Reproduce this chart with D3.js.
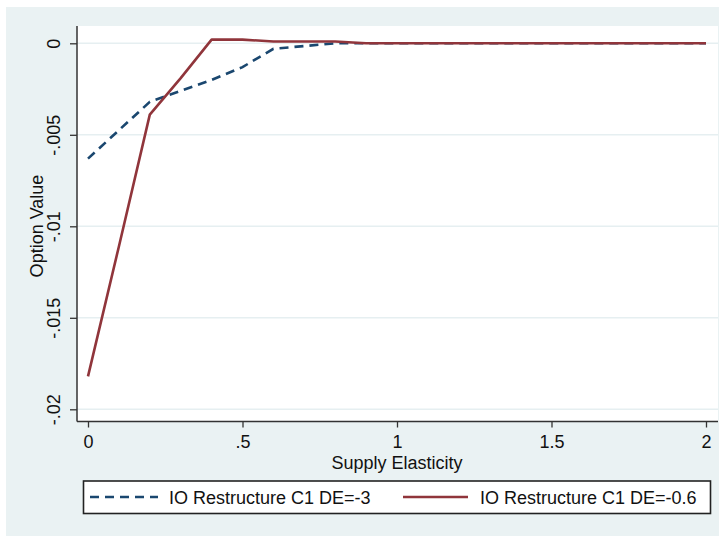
<!DOCTYPE html>
<html>
<head>
<meta charset="utf-8">
<script src="https://cdn.jsdelivr.net/npm/d3@7"></script>
<style>
  html, body { margin: 0; padding: 0; background: #ffffff; }
  svg { display: block; }
  text { font-family: "Liberation Sans", Arial, sans-serif; fill: #111; }
</style>
</head>
<body>
<svg id="chart" width="725" height="536"></svg>
<script>
// Supply elasticity grid
const elasticity = [0, 0.1, 0.2, 0.3, 0.4, 0.5, 0.6, 0.7, 0.8, 0.9, 1.0,
                    1.1, 1.2, 1.3, 1.4, 1.5, 1.6, 1.7, 1.8, 1.9, 2.0];
// Option value, IO Restructure C1, demand elasticity -3
const optionDE3 = [-0.0063, -0.00475, -0.0032, -0.0026, -0.0020, -0.0013, -0.0003, -0.00015, 0, 0, 0,
                   0, 0, 0, 0, 0, 0, 0, 0, 0, 0];
// Option value, IO Restructure C1, demand elasticity -0.6
const optionDE06 = [-0.0182, -0.0111, -0.0039, -0.0019, 0.0002, 0.0002, 0.0001, 0.0001, 0.0001, 0, 0,
                    0, 0, 0, 0, 0, 0, 0, 0, 0, 0];

const xTickValues = [0, 0.5, 1, 1.5, 2];
const xTickLabels = ["0", ".5", "1", "1.5", "2"];
const yTickValues = [0, -0.005, -0.01, -0.015, -0.02];
const yTickLabels = ["0", "-.005", "-.01", "-.015", "-.02"];

const seriesNames = ["IO Restructure C1 DE=-3", "IO Restructure C1 DE=-0.6"];
const xTitle = "Supply Elasticity";
const yTitle = "Option Value";

const navy = "#1a476f", maroon = "#90353b";

const svg = d3.select("#chart");

// graph region and plot region
svg.append("rect").attr("x", 6).attr("y", 7).attr("width", 713).attr("height", 529)
   .attr("fill", "#eaf2f3");
const plot = { left: 77, right: 718, top: 26, bottom: 421.5 };
svg.append("rect").attr("x", plot.left).attr("y", plot.top)
   .attr("width", plot.right - plot.left).attr("height", plot.bottom - plot.top)
   .attr("fill", "#ffffff");

const x = d3.scaleLinear().domain([0, 2]).range([88, 706]);
const y = d3.scaleLinear().domain([-0.02, 0]).range([409.3, 43.3]);

// horizontal grid lines
svg.append("g").selectAll("line").data(yTickValues).join("line")
   .attr("x1", plot.left).attr("x2", plot.right)
   .attr("y1", d => y(d)).attr("y2", d => y(d))
   .attr("stroke", "#e6eff1").attr("stroke-width", 1.5);

// series lines
const line = d3.line().x((d, i) => x(elasticity[i])).y(d => y(d));
svg.append("path").datum(optionDE3)
   .attr("d", line).attr("fill", "none")
   .attr("stroke", navy).attr("stroke-width", 2.6)
   .attr("stroke-dasharray", "9,6");
svg.append("path").datum(optionDE06)
   .attr("d", line).attr("fill", "none")
   .attr("stroke", maroon).attr("stroke-width", 2.6)
   .attr("stroke-linejoin", "round");

// y axis
const yAxis = d3.axisLeft(y).tickValues(yTickValues)
   .tickFormat((d, i) => yTickLabels[i]).tickSize(7).tickSizeOuter(0);
const gy = svg.append("g").attr("transform", `translate(${plot.left},0)`).call(yAxis);
gy.select(".domain").attr("d", `M0,${plot.top}V${plot.bottom}`)
  .attr("stroke", "#333").attr("stroke-width", 1.5);
gy.selectAll(".tick line").attr("stroke", "#333").attr("stroke-width", 1.3);
gy.selectAll(".tick text")
  .attr("x", 0).attr("y", 0).attr("dy", "0.36em")
  .attr("text-anchor", "middle")
  .attr("transform", "translate(-23,0) rotate(-90)")
  .style("font-size", "18px").style("font-family", "Liberation Sans, Arial, sans-serif")
  .attr("fill", "#111");

// x axis
const xAxis = d3.axisBottom(x).tickValues(xTickValues)
   .tickFormat((d, i) => xTickLabels[i]).tickSize(6).tickSizeOuter(0);
const gx = svg.append("g").attr("transform", `translate(0,${plot.bottom})`).call(xAxis);
gx.select(".domain").attr("d", `M${plot.left},0H${plot.right}`)
  .attr("stroke", "#333").attr("stroke-width", 1.5);
gx.selectAll(".tick line").attr("stroke", "#333").attr("stroke-width", 1.3);
gx.selectAll(".tick text")
  .attr("y", 20).attr("dy", "0.36em")
  .style("font-size", "18px").style("font-family", "Liberation Sans, Arial, sans-serif")
  .attr("fill", "#111");

// axis titles
svg.append("text").attr("x", 397).attr("y", 469).attr("text-anchor", "middle")
   .style("font-size", "18px").text(xTitle);
svg.append("text").attr("transform", "translate(43,226) rotate(-90)")
   .attr("text-anchor", "middle").style("font-size", "18px").text(yTitle);

// legend
const lg = svg.append("g");
lg.append("rect").attr("x", 83.5).attr("y", 481).attr("width", 627).attr("height", 32.5)
  .attr("fill", "#ffffff").attr("stroke", "#222").attr("stroke-width", 1.6);
const legendItems = [
  { name: seriesNames[0], color: navy, dash: "9,6", x0: 90, x1: 158, tx: 169 },
  { name: seriesNames[1], color: maroon, dash: null, x0: 403, x1: 468, tx: 480 }
];
legendItems.forEach(it => {
  lg.append("line").attr("x1", it.x0).attr("x2", it.x1).attr("y1", 497).attr("y2", 497)
    .attr("stroke", it.color).attr("stroke-width", 2.6)
    .attr("stroke-dasharray", it.dash);
  lg.append("text").attr("x", it.tx).attr("y", 503.5)
    .style("font-size", "18px").text(it.name);
});
</script>
</body>
</html>
